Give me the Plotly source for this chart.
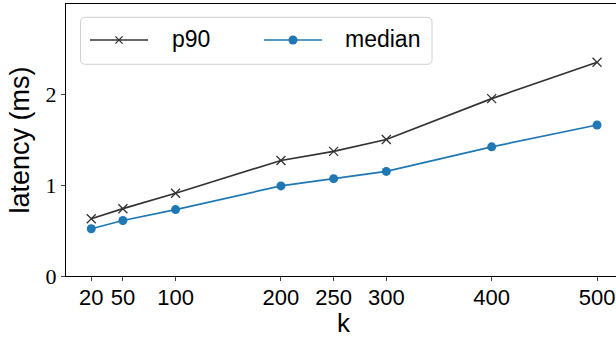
import plotly.graph_objects as go

# Latency versus k
k_values = [20, 50, 100, 200, 250, 300, 400, 500]
p90_ms = [0.63, 0.74, 0.91, 1.27, 1.37, 1.50, 1.95, 2.35]
median_ms = [0.52, 0.61, 0.73, 0.99, 1.07, 1.15, 1.42, 1.66]
x_tick_labels = [str(v) for v in k_values]
y_tick_values = [0, 1, 2]
series_names = ["p90", "median"]

SANS = "Liberation Sans, Arial, sans-serif"
SERIF = "Liberation Serif, DejaVu Serif, serif"
DARK = "#333333"
BLUE = "#1f77b4"

W, H = 616, 339
M_L, M_R, M_T, M_B = 66, 0, 4, 63
PW, PH = W - M_L - M_R, H - M_T - M_B


def px(xp):
    """pixel column -> plot-area paper coordinate"""
    return (xp - M_L) / PW


def py(yp):
    """pixel row -> plot-area paper coordinate"""
    return (H - M_B - yp) / PH


fig = go.Figure()
fig.add_trace(go.Scatter(
    x=k_values, y=p90_ms, name=series_names[0], mode="lines+markers",
    line=dict(color=DARK, width=1.7),
    marker=dict(symbol="x-thin", size=9, line=dict(color=DARK, width=1.3)),
))
fig.add_trace(go.Scatter(
    x=k_values, y=median_ms, name=series_names[1], mode="lines+markers",
    line=dict(color=BLUE, width=1.7),
    marker=dict(symbol="circle", size=9, color=BLUE),
))

# ---- legend drawn by hand: rounded frame, line samples, markers, labels ----
shapes = []
bx0, bx1, by0, by1, rad = 80.5, 432, 17.3, 64.3, 5
rx, ry = rad / PW, rad / PH
X0, X1, Y0, Y1 = px(bx0), px(bx1), py(by1), py(by0)
frame = (f"M{X0 + rx},{Y0} L{X1 - rx},{Y0} Q{X1},{Y0} {X1},{Y0 + ry} "
         f"L{X1},{Y1 - ry} Q{X1},{Y1} {X1 - rx},{Y1} "
         f"L{X0 + rx},{Y1} Q{X0},{Y1} {X0},{Y1 - ry} "
         f"L{X0},{Y0 + ry} Q{X0},{Y0} {X0 + rx},{Y0} Z")
shapes.append(dict(type="path", path=frame, xref="paper", yref="paper",
                   line=dict(color="#d0d0d0", width=1), fillcolor="rgba(255,255,255,0.8)",
                   layer="below"))

ly = 40
# p90 sample
shapes.append(dict(type="line", xref="paper", yref="paper",
                   x0=px(90), x1=px(148), y0=py(ly), y1=py(ly),
                   line=dict(color=DARK, width=1.7)))
mx, d = 119, 3.6
shapes.append(dict(type="line", xref="paper", yref="paper",
                   x0=px(mx - d), x1=px(mx + d), y0=py(ly - d), y1=py(ly + d),
                   line=dict(color=DARK, width=1.3)))
shapes.append(dict(type="line", xref="paper", yref="paper",
                   x0=px(mx - d), x1=px(mx + d), y0=py(ly + d), y1=py(ly - d),
                   line=dict(color=DARK, width=1.3)))
# median sample
shapes.append(dict(type="line", xref="paper", yref="paper",
                   x0=px(264), x1=px(322), y0=py(ly), y1=py(ly),
                   line=dict(color=BLUE, width=1.7)))
cx, cr = 293, 4.5
shapes.append(dict(type="circle", xref="paper", yref="paper",
                   x0=px(cx - cr), x1=px(cx + cr), y0=py(ly + cr), y1=py(ly - cr),
                   line=dict(color=BLUE, width=0), fillcolor=BLUE))

annotations = []
for name, left in zip(series_names, [170, 343]):
    annotations.append(dict(
        text=name, xref="paper", yref="paper", x=px(left), y=py(ly - 1),
        xanchor="left", yanchor="middle", showarrow=False,
        font=dict(family=SANS, size=23, color="black"),
    ))

# x-axis title
annotations.append(dict(
    text="k", xref="paper", yref="paper", x=px(344), y=py(340),
    xanchor="center", yanchor="bottom", showarrow=False,
    font=dict(family=SANS, size=26, color="black"),
))

fig.update_layout(
    width=W, height=H,
    margin=dict(l=M_L, r=M_R, t=M_T, b=M_B),
    plot_bgcolor="white", paper_bgcolor="white",
    showlegend=False,
    shapes=shapes,
    annotations=annotations,
    xaxis=dict(
        range=[-4, 518], tickmode="array", tickvals=k_values, ticktext=x_tick_labels,
        showgrid=False, zeroline=False,
        showline=True, linecolor="black", linewidth=1.2, mirror=True,
        ticks="outside", ticklen=4, tickwidth=1, tickcolor="#444",
        tickfont=dict(family=SANS, size=22, color="black"),
        ticklabeloverflow="allow", ticklabelstandoff=-3,
    ),
    yaxis=dict(
        range=[0, 2.99], tickmode="array", tickvals=y_tick_values,
        ticktext=[str(v) for v in y_tick_values],
        showgrid=False, zeroline=False,
        showline=True, linecolor="black", linewidth=1.2, mirror=False,
        ticks="outside", ticklen=4, tickwidth=1, tickcolor="#444",
        tickfont=dict(family=SERIF, size=22, color="black"),
        title=dict(text="latency (ms)", font=dict(family=SANS, size=27, color="black"), standoff=8),
    ),
)

fig.write_html("out.html")
